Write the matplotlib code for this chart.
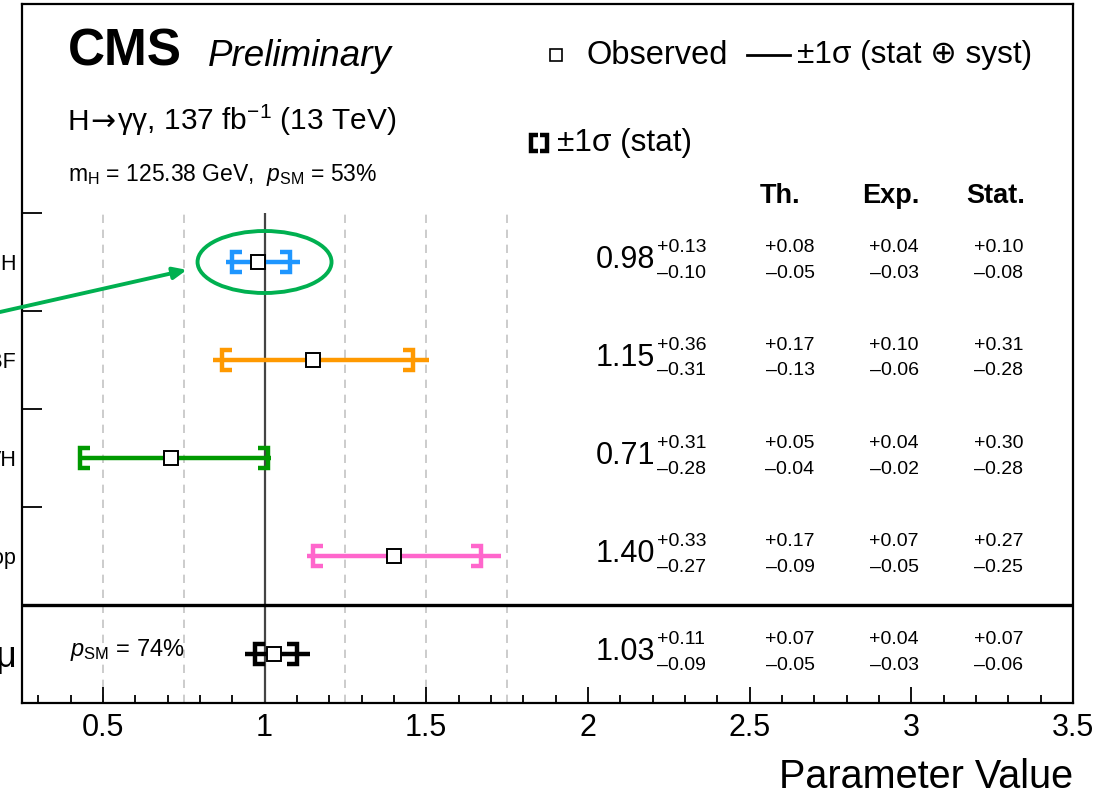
import matplotlib
matplotlib.use("Agg")
import matplotlib.pyplot as plt
import matplotlib.transforms as mtransforms
from matplotlib.lines import Line2D
from matplotlib.patches import Ellipse

plt.rcParams['font.family'] = ['Liberation Sans', 'DejaVu Sans']
plt.rcParams['mathtext.fontset'] = 'custom'
plt.rcParams['mathtext.rm'] = 'Liberation Sans'
plt.rcParams['mathtext.it'] = 'Liberation Sans:italic'
plt.rcParams['mathtext.bf'] = 'Liberation Sans:bold'

# ---- signal-strength fit results ----
labels = ["ggH", "VBF", "VH", "top", "μ"]
best = [0.98, 1.15, 0.71, 1.40, 1.03]
tot_hi = [0.13, 0.36, 0.31, 0.33, 0.11]
tot_lo = [0.10, 0.31, 0.28, 0.27, 0.09]
stat_hi = [0.10, 0.31, 0.30, 0.27, 0.07]
stat_lo = [0.08, 0.28, 0.28, 0.25, 0.06]
th_hi = [0.08, 0.17, 0.05, 0.17, 0.07]
th_lo = [0.05, 0.13, 0.04, 0.09, 0.05]
exp_hi = [0.04, 0.10, 0.04, 0.07, 0.04]
exp_lo = [0.03, 0.06, 0.02, 0.05, 0.03]
colors = ["#1e96ff", "#ff9900", "#009900", "#ff66cc", "#000000"]
x_ticks = [0.5, 1.0, 1.5, 2.0, 2.5, 3.0, 3.5]
x_tick_labels = ["0.5", "1", "1.5", "2", "2.5", "3", "3.5"]
ref_lines = [0.5, 0.75, 1.25, 1.5, 1.75]

W, H = 1120, 796
fig = plt.figure(figsize=(W / 100, H / 100), dpi=100)
ax = fig.add_axes([22 / W, 93 / H, 1051 / W, 699 / H])
n = len(labels)
ax.set_xlim(0.25, 3.5)
ax.set_ylim(0, 699 / 98)

for s in ax.spines.values():
    s.set_linewidth(1.6)

# x axis
ax.set_xticks(x_ticks, x_tick_labels)
ax.set_xticks([round(0.3 + 0.1 * i, 1) for i in range(33)], minor=True)
ax.tick_params(axis='x', which='major', direction='in', length=11.5, width=1.3,
               labelsize=22, pad=7, top=False)
ax.tick_params(axis='x', which='minor', direction='in', length=5.8, width=1.3, top=False)
ax.set_xlabel("Parameter Value", fontsize=28.5, loc='right', labelpad=11)

# y axis: row separators as ticks, category names on the row centres
rows = [n - 0.5 - i for i in range(n)]
ax.set_yticks(range(1, n + 1))
ax.set_yticklabels([])
ax.set_yticks(rows, labels, minor=True)
ax.tick_params(axis='y', which='major', direction='in', length=14.5, width=1.3, right=False)
ax.tick_params(axis='y', which='minor', length=0, labelsize=15.5, pad=4, right=False)
for t in ax.get_yticklabels(minor=True):
    if t.get_text() == "μ":
        t.set_fontsize(26)

# reference lines
ax.vlines(ref_lines, 0, n, colors='#c4c4c4', linestyles=(0, (5, 4)), lw=1.2, zorder=1)
ax.vlines(1.0, 0, n, colors='#444444', lw=1.6, zorder=2)
ax.axhline(1.0, color='black', lw=2.4, zorder=3)

# error bars
cap = 10 / 323.4
hh = 0.102
for i in range(n):
    y, v, c = rows[i], best[i], colors[i]
    ax.plot([v - tot_lo[i], v + tot_hi[i]], [y, y], color=c, lw=3.2,
            solid_capstyle='butt', zorder=4)
    xl, xr = v - stat_lo[i], v + stat_hi[i]
    ax.plot([xl + cap, xl, xl, xl + cap], [y + hh, y + hh, y - hh, y - hh], color=c,
            lw=3.2, solid_joinstyle='miter', solid_capstyle='butt', zorder=5)
    ax.plot([xr - cap, xr, xr, xr - cap], [y + hh, y + hh, y - hh, y - hh], color=c,
            lw=3.2, solid_joinstyle='miter', solid_capstyle='butt', zorder=5)
    ax.plot(v, y, marker='s', ms=10.5, mfc='white', mec='black', mew=1.4, zorder=6)

# numerical results
bt = mtransforms.blended_transform_factory(ax.transAxes, ax.transData)


def shifted(dy):
    return mtransforms.offset_copy(bt, fig=fig, x=0, y=dy, units='dots')


def fx(px):
    return (px - 22) / 1051


for i in range(n):
    y = rows[i]
    ax.text(fx(655), y, f"{best[i]:.2f}", transform=shifted(2), ha='right',
            va='center', fontsize=22)
    ax.text(fx(657), y, f"+{tot_hi[i]:.2f}", transform=shifted(14), ha='left',
            va='center', fontsize=14)
    ax.text(fx(657), y, f"–{tot_lo[i]:.2f}", transform=shifted(-11), ha='left',
            va='center', fontsize=14)
    for cx, hi, lo in ((790, th_hi, th_lo), (894, exp_hi, exp_lo), (999, stat_hi, stat_lo)):
        ax.text(fx(cx), y, f"+{hi[i]:.2f}", transform=shifted(14), ha='center',
                va='center', fontsize=14)
        ax.text(fx(cx), y, f"–{lo[i]:.2f}", transform=shifted(-11), ha='center',
                va='center', fontsize=14)

ax.text(fx(70), 0.5, r"$p_{\mathrm{SM}}$ = 74%", transform=shifted(4), ha='left',
        va='center', fontsize=17)


def ftxt(px, py, s, **kw):
    return fig.text(px / W, 1 - py / H, s, **kw)


# header block
ftxt(68, 66, "CMS", fontsize=37, fontweight='bold', va='baseline')
ftxt(208, 66, "Preliminary", fontsize=26.5, fontstyle='italic', va='baseline')

# process line, assembled piece by piece so the arrow comes from DejaVu Sans
renderer = fig.canvas.get_renderer()
xpos = 68
for piece, fam in (("H", ['Liberation Sans']), ("→", ['DejaVu Sans']),
                   (r"γγ, 137 fb$^{-1}$ (13 TeV)", ['Liberation Sans', 'DejaVu Sans'])):
    t = ftxt(xpos, 130, piece, fontsize=21.5, va='baseline', family=fam)
    xpos += t.get_window_extent(renderer).width + 1

ftxt(68, 181, r"m$_{\mathrm{H}}$ = 125.38 GeV,  $p_{\mathrm{SM}}$ = 53%", fontsize=16.5,
     va='baseline')

ftxt(780, 196, "Th.", fontsize=19.5, fontweight='bold', ha='center', va='center')
ftxt(891, 196, "Exp.", fontsize=19.5, fontweight='bold', ha='center', va='center')
ftxt(996, 196, "Stat.", fontsize=19.5, fontweight='bold', ha='center', va='center')

# legend
fig.add_artist(Line2D([556 / W], [1 - 55 / H], marker='s', ms=9, mfc='white',
                      mec='black', mew=1.2, transform=fig.transFigure))
ftxt(587, 55, "Observed", fontsize=23.5, va='center')
fig.add_artist(Line2D([747 / W, 790 / W], [1 - 55 / H] * 2, color='black', lw=2,
                      transform=fig.transFigure))
ftxt(797, 55, "±1σ (stat ⊕ syst)", fontsize=22.8, va='center')


def bracket(x0, x1, yc, hpx):
    fig.add_artist(Line2D([x1 / W, x0 / W, x0 / W, x1 / W],
                          [1 - (yc - hpx) / H, 1 - (yc - hpx) / H,
                           1 - (yc + hpx) / H, 1 - (yc + hpx) / H],
                          color='black', lw=3.2, solid_joinstyle='miter',
                          solid_capstyle='butt', transform=fig.transFigure))


bracket(531, 538, 143, 8)
bracket(547, 540, 143, 8)
ftxt(557, 143, "±1σ (stat)", fontsize=22.8, va='center')

# highlight of the ggH result
ax.add_patch(Ellipse((1.0, rows[0]), 134 / 323.4, 62 / 98, fill=False,
                     edgecolor='#00b050', lw=2.8, zorder=7))
ax.annotate("", xy=(0.76, rows[0] - 0.08), xycoords='data',
            xytext=(0, 1 - 312 / H), textcoords='figure fraction',
            arrowprops=dict(arrowstyle='-|>,head_length=0.8,head_width=0.35',
                            color='#00b050', lw=2.8, shrinkA=0, shrinkB=0),
            annotation_clip=False, zorder=7)

fig.savefig("out.png", dpi=100)
